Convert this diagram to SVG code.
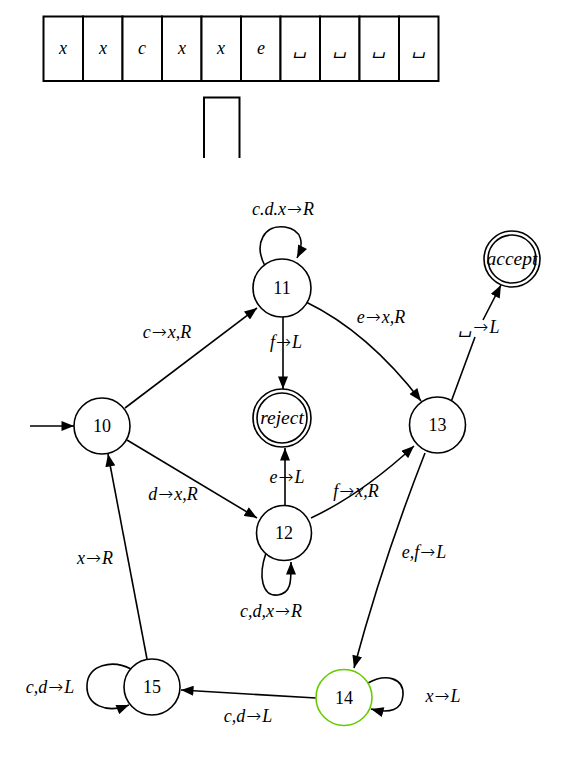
<svg xmlns="http://www.w3.org/2000/svg" width="582" height="764" viewBox="0 0 582 764">
<style>
.t{font-family:"Liberation Serif","DejaVu Serif",serif;font-style:italic;font-size:18px;text-anchor:middle;fill:#000}
.n{font-family:"Liberation Serif","DejaVu Serif",serif;font-size:18px;text-anchor:middle;fill:#000}
.r{font-family:"DejaVu Sans",sans-serif;font-style:normal;font-weight:200;font-size:18px}
.f{font-size:19.5px}
.c{fill:#fff;stroke:#000;stroke-width:1.6}
.e{fill:none;stroke:#000;stroke-width:1.6}
.cell{fill:#fff;stroke:#000;stroke-width:2}
</style>
<defs>
<marker id="a" viewBox="0 0 10 8" refX="10" refY="4" markerWidth="13" markerHeight="10" markerUnits="userSpaceOnUse" orient="auto">
<path d="M0,0 L10,4 L0,8 Z" fill="#000"/>
</marker>
</defs>
<g id="tape">
<rect class="cell" x="43.5" y="16.5" width="39.5" height="64.5"/>
<rect class="cell" x="83" y="16.5" width="39.5" height="64.5"/>
<rect class="cell" x="122.5" y="16.5" width="39.5" height="64.5"/>
<rect class="cell" x="162" y="16.5" width="39.5" height="64.5"/>
<rect class="cell" x="201.5" y="16.5" width="39.5" height="64.5"/>
<rect class="cell" x="241" y="16.5" width="39.5" height="64.5"/>
<rect class="cell" x="280.5" y="16.5" width="39.5" height="64.5"/>
<rect class="cell" x="320" y="16.5" width="39.5" height="64.5"/>
<rect class="cell" x="359.5" y="16.5" width="39.5" height="64.5"/>
<rect class="cell" x="399" y="16.5" width="39.5" height="64.5"/>
<text class="t" x="63" y="54">x</text>
<text class="t" x="103" y="54">x</text>
<text class="t" x="142" y="54">c</text>
<text class="t" x="182" y="54">x</text>
<text class="t" x="221" y="54">x</text>
<text class="t" x="261" y="54">e</text>
<text class="t" x="300" y="54">␣</text>
<text class="t" x="340" y="54">␣</text>
<text class="t" x="379" y="54">␣</text>
<text class="t" x="419" y="54">␣</text>
<path d="M204,158 V97.5 H239.5 V158" fill="none" stroke="#000" stroke-width="2"/>
</g>
<g id="edges">
<path class="e" d="M30,426 L74,426" marker-end="url(#a)"/>
<path class="e" d="M125,408 L257,308" marker-end="url(#a)"/>
<path class="e" d="M127,440 L257,518" marker-end="url(#a)"/>
<path class="e" d="M265,266 C253,243 265,224 285,227 C303,230 304,244 297,258" marker-end="url(#a)"/>
<path class="e" d="M283,317 L283,389" marker-end="url(#a)"/>
<path class="e" d="M285,505 L285,448" marker-end="url(#a)"/>
<path class="e" d="M306,302 Q368,332 421,401" marker-end="url(#a)"/>
<path class="e" d="M311,518 Q362,494 414,446" marker-end="url(#a)"/>
<path class="e" d="M451,402 L475,337 M483,320 L501,285" marker-end="url(#a)"/>
<path class="e" d="M425,453 Q383,560 354,668" marker-end="url(#a)"/>
<path class="e" d="M266,553 C258,576 262,597 278,595 C292,593 291,580 291,562" marker-end="url(#a)"/>
<path class="e" d="M316,698 L181,690" marker-end="url(#a)"/>
<path class="e" d="M368,683 C386,673 404,678 403,695 C402,710 390,714 371,709" marker-end="url(#a)"/>
<path class="e" d="M131,669 C112,659 88,665 87,685 C86,705 106,714 129,705" marker-end="url(#a)"/>
<path class="e" d="M147,659 Q128,560 108,454" marker-end="url(#a)"/>
</g>
<g id="labels">
<text class="t" x="283" y="215">c.d.x<tspan class="r" dx="1">→</tspan><tspan dx="1">R</tspan></text>
<text class="t" x="167" y="338">c<tspan class="r" dx="1">→</tspan><tspan dx="1">x,R</tspan></text>
<text class="t" x="286" y="348">f<tspan class="r" dx="1">→</tspan><tspan dx="1">L</tspan></text>
<text class="t" x="381" y="323">e<tspan class="r" dx="1">→</tspan><tspan dx="1">x,R</tspan></text>
<text class="t" x="479" y="333">␣<tspan class="r" dx="1">→</tspan><tspan dx="1">L</tspan></text>
<text class="t" x="173" y="500">d<tspan class="r" dx="1">→</tspan><tspan dx="1">x,R</tspan></text>
<text class="t" x="287" y="483">e<tspan class="r" dx="1">→</tspan><tspan dx="1">L</tspan></text>
<text class="t" x="356" y="497">f<tspan class="r" dx="1">→</tspan><tspan dx="1">x,R</tspan></text>
<text class="t" x="424" y="558">e,f<tspan class="r" dx="1">→</tspan><tspan dx="1">L</tspan></text>
<text class="t" x="271" y="617">c,d,x<tspan class="r" dx="1">→</tspan><tspan dx="1">R</tspan></text>
<text class="t" x="95" y="564">x<tspan class="r" dx="1">→</tspan><tspan dx="1">R</tspan></text>
<text class="t" x="50" y="693">c,d<tspan class="r" dx="1">→</tspan><tspan dx="1">L</tspan></text>
<text class="t" x="248" y="722">c,d<tspan class="r" dx="1">→</tspan><tspan dx="1">L</tspan></text>
<text class="t" x="443" y="702">x<tspan class="r" dx="1">→</tspan><tspan dx="1">L</tspan></text>
</g>
<g id="n10"><circle class="c" cx="102" cy="426" r="28"/><text class="n" x="102" y="432">10</text></g>
<g id="n11"><circle class="c" cx="282" cy="288" r="29"/><text class="n" x="282" y="294">11</text></g>
<g id="reject"><circle class="c" cx="282" cy="418" r="29"/><circle class="e" cx="282" cy="418" r="25"/><text class="t f" x="282" y="424">reject</text></g>
<g id="n12"><circle class="c" cx="284" cy="533" r="27.5"/><text class="n" x="284" y="539">12</text></g>
<g id="n13"><circle class="c" cx="437.5" cy="425" r="28"/><text class="n" x="437.5" y="431">13</text></g>
<g id="accept"><circle class="c" cx="512" cy="259" r="28"/><circle class="e" cx="512" cy="259" r="24"/><text class="t f" x="512" y="265">accept</text></g>
<g id="n14"><circle class="c" cx="344" cy="697.5" r="28" style="stroke:#66cc00"/><text class="n" x="344" y="704">14</text></g>
<g id="n15"><circle class="c" cx="152" cy="687" r="28"/><text class="n" x="152" y="693">15</text></g>
</svg>
